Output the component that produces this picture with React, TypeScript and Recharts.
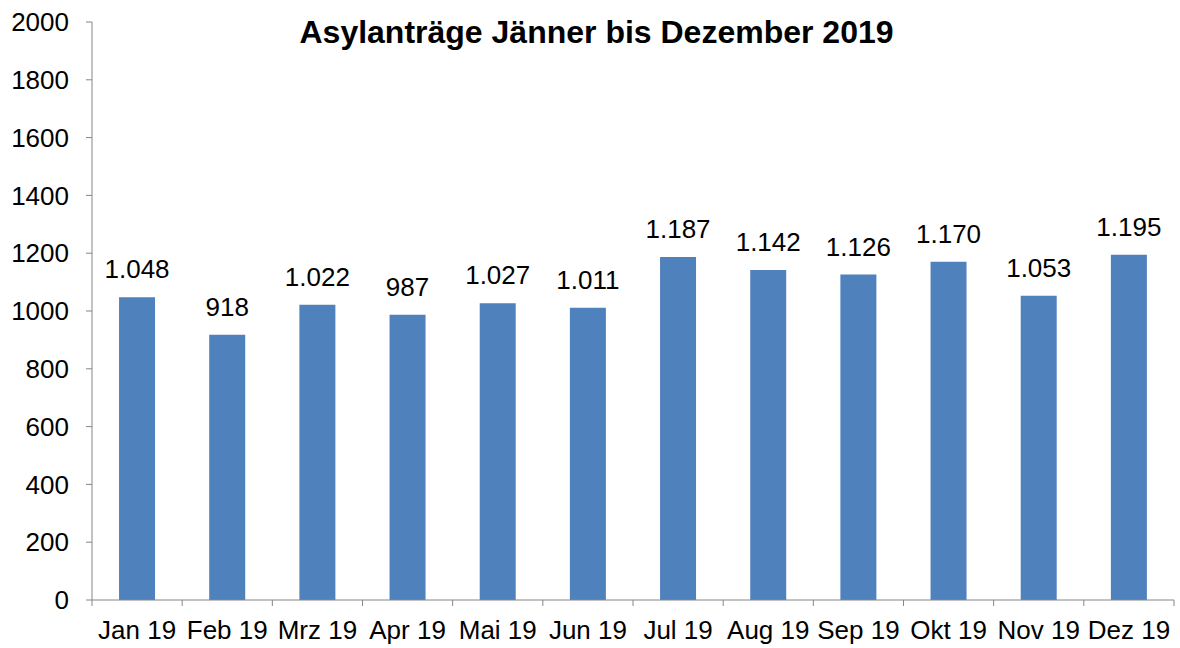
import { BarChart, Bar, XAxis, YAxis, LabelList } from 'recharts';

const months = ['Jan 19', 'Feb 19', 'Mrz 19', 'Apr 19', 'Mai 19', 'Jun 19', 'Jul 19', 'Aug 19', 'Sep 19', 'Okt 19', 'Nov 19', 'Dez 19'];
const antraege = [1048, 918, 1022, 987, 1027, 1011, 1187, 1142, 1126, 1170, 1053, 1195];
const yTicks = [0, 200, 400, 600, 800, 1000, 1200, 1400, 1600, 1800, 2000];

const data = months.map((m, i) => ({ month: m, value: antraege[i] }));

const FONT = '"Liberation Sans", Arial, sans-serif';
const AXIS = '#868686';
const BAND = (1180 - 92 - 6) / months.length;

// German thousands separator
const fmt = (v: number) =>
  v >= 1000 ? `${Math.floor(v / 1000)}.${String(v % 1000).padStart(3, '0')}` : String(v);

function MonthTick(props: any) {
  const { x, y, index, payload } = props;
  const last = index === months.length - 1;
  return (
    <g>
      <line x1={x - BAND / 2} x2={x - BAND / 2} y1={y - 8} y2={y - 2} stroke={AXIS} />
      {last && <line x1={x + BAND / 2} x2={x + BAND / 2} y1={y - 8} y2={y - 2} stroke={AXIS} />}
      <text x={x} y={y + 31} textAnchor="middle" fontSize={26} fill="#000" fontFamily={FONT}>
        {payload.value}
      </text>
    </g>
  );
}

export default function App() {
  return (
    <div style={{ position: 'absolute', left: 0, top: 0, width: 1180, height: 648, background: '#fff' }}>
      <div
        style={{
          position: 'absolute',
          left: 0,
          width: 1193,
          top: 14,
          textAlign: 'center',
          fontFamily: FONT,
          fontWeight: 'bold',
          fontSize: 32,
          color: '#000',
        }}
      >
        Asylanträge Jänner bis Dezember 2019
      </div>
      <BarChart
        width={1180}
        height={648}
        data={data}
        margin={{ top: 22, right: 6, left: 0, bottom: 0 }}
        barCategoryGap="30%"
      >
        <XAxis
          dataKey="month"
          height={48}
          stroke={AXIS}
          tickLine={false}
          tick={<MonthTick />}
          interval={0}
        />
        <YAxis
          width={92}
          domain={[0, 2000]}
          ticks={yTicks}
          stroke={AXIS}
          tickSize={6}
          tick={{ fill: '#000', fontSize: 26, fontFamily: FONT }}
          tickMargin={17}
          interval={0}
        />
        <Bar dataKey="value" fill="#4F81BD" isAnimationActive={false}>
          <LabelList
            dataKey="value"
            position="top"
            offset={19}
            formatter={(v: any) => fmt(Number(v))}
            style={{ fill: '#000', fontSize: 26, fontFamily: FONT }}
          />
        </Bar>
      </BarChart>
    </div>
  );
}
